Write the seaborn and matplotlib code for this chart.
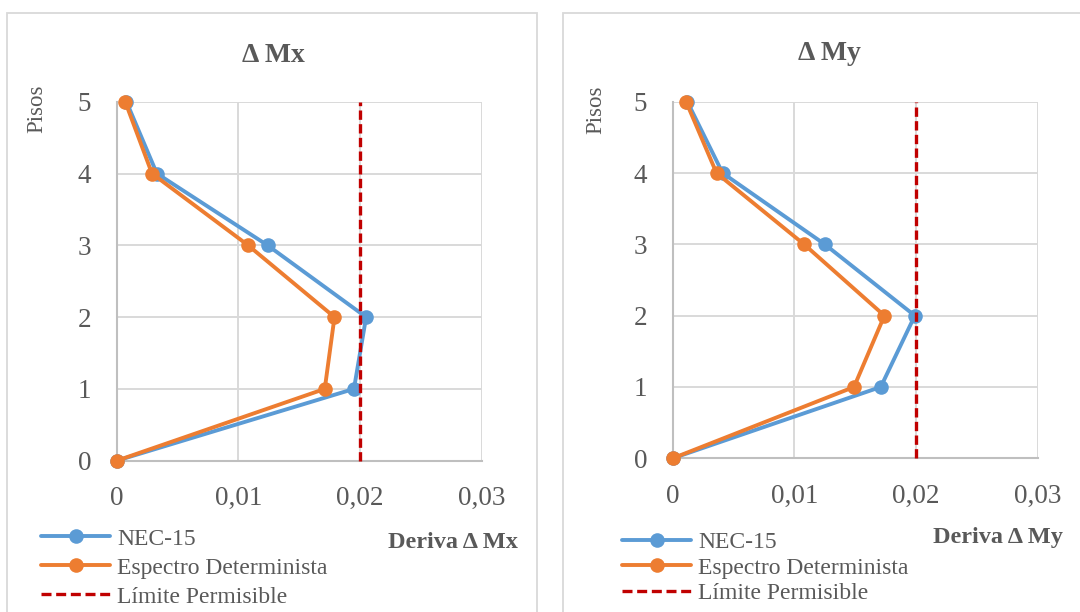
import matplotlib
matplotlib.use("Agg")
import matplotlib.pyplot as plt
import numpy as np
import pandas as pd
import seaborn as sns
from matplotlib.patches import Rectangle
from matplotlib.lines import Line2D

# Story levels and inter-story drifts
pisos = [0, 1, 2, 3, 4, 5]
nec_mx = [0.0, 0.0195, 0.0205, 0.0124, 0.0033, 0.0008]
esp_mx = [0.0, 0.0171, 0.0179, 0.0108, 0.0029, 0.0007]
nec_my = [0.0, 0.0171, 0.0199, 0.0125, 0.0041, 0.0012]
esp_my = [0.0, 0.0149, 0.0174, 0.0108, 0.0036, 0.0011]

series_names = ["NEC-15", "Espectro Determinista"]
limite_label = "Límite Permisible"
limite = 0.02

x_ticks = [0, 0.01, 0.02, 0.03]
x_tick_labels = ["0", "0,01", "0,02", "0,03"]
y_ticks = [0, 1, 2, 3, 4, 5]

titles = ["Δ Mx", "Δ My"]
x_labels = ["Deriva Δ Mx", "Deriva Δ My"]
y_label = "Pisos"

BLUE = "#5B9BD5"
ORANGE = "#ED7D31"
RED = "#C00000"
GRID = "#D9D9D9"
TEXT = "#595959"

sns.set_style("white")
plt.rcParams["font.family"] = ["Liberation Serif", "DejaVu Serif"]

W, H = 1080, 612
fig = plt.figure(figsize=(W / 100, H / 100), dpi=100)


def fx(x):
    return x / W


def fy(y):
    return 1 - y / H


def axes_rect(x0, y_top, x1, y_bot):
    return [fx(x0), fy(y_bot), fx(x1) - fx(x0), fy(y_top) - fy(y_bot)]


panels = [
    dict(nec=nec_mx, esp=esp_mx, rect=axes_rect(116.7, 101.7, 481.7, 460.7),
         frame=(7, 13, 537), title_xy=(273.7, 55), ylab_xy=(37, 109),
         xlab_xy=(518.3, 543), leg_xy=(40.7, 528), leg_sp=0.32),
    dict(nec=nec_my, esp=esp_my, rect=axes_rect(672.7, 101.7, 1037.7, 458.3),
         frame=(563, 13, 1100), title_xy=(829.6, 54), ylab_xy=(596, 110),
         xlab_xy=(1063.3, 537), leg_xy=(621.7, 531.5), leg_sp=0.17),
]

for i, p in enumerate(panels):
    # chart frame
    x0, y0, x1 = p["frame"]
    fig.patches.append(Rectangle((fx(x0), -0.1), fx(x1) - fx(x0), fy(y0) + 0.1,
                                 transform=fig.transFigure, fill=False,
                                 edgecolor=GRID, lw=1.3, zorder=0))

    ax = fig.add_axes(p["rect"])
    df = pd.DataFrame({
        "deriva": p["nec"] + p["esp"],
        "piso": pisos + pisos,
        "serie": [series_names[0]] * len(pisos) + [series_names[1]] * len(pisos),
    })
    sns.lineplot(data=df, x="deriva", y="piso", hue="serie",
                 hue_order=series_names, palette=[BLUE, ORANGE],
                 sort=False, estimator=None, marker="o", markersize=10.5,
                 markeredgewidth=0, linewidth=2.8, legend=False,
                 clip_on=False, zorder=3, ax=ax)
    ax.plot([limite, limite], [0, 5], color=RED, lw=2.4,
            ls=(0, (2.8, 1.3)), zorder=4, clip_on=False)

    ax.set_xlim(0, 0.03)
    ax.set_ylim(0, 5)
    ax.set_xticks(x_ticks)
    ax.set_xticklabels(x_tick_labels)
    ax.set_yticks(y_ticks)
    ax.set_xlabel("")
    ax.set_ylabel("")
    ax.tick_params(length=0, pad=18.5, labelsize=19.5, colors=TEXT)
    ax.grid(True, color=GRID, lw=1.4)
    ax.set_axisbelow(True)
    for s in ["top", "right"]:
        ax.spines[s].set_visible(False)
    for s in ["left", "bottom"]:
        ax.spines[s].set_color("#BFBFBF")
        ax.spines[s].set_linewidth(1.5)

    fig.text(fx(p["title_xy"][0]), fy(p["title_xy"][1]), titles[i],
             ha="center", va="center", fontsize=20, fontweight="bold",
             color=TEXT)
    fig.text(fx(p["ylab_xy"][0]), fy(p["ylab_xy"][1]), y_label, rotation=90,
             ha="center", va="center", fontsize=16.5, color=TEXT)
    fig.text(fx(p["xlab_xy"][0]), fy(p["xlab_xy"][1]), x_labels[i],
             ha="right", va="center", fontsize=17.5, fontweight="bold",
             color=TEXT)

    handles = [
        Line2D([], [], color=BLUE, lw=2.8, marker="o", markersize=10.5,
               markeredgewidth=0),
        Line2D([], [], color=ORANGE, lw=2.8, marker="o", markersize=10.5,
               markeredgewidth=0),
        Line2D([], [], color=RED, lw=2.4, ls=(0, (3, 1.4))),
    ]
    fig.legend(handles, series_names + [limite_label], loc="upper left",
               bbox_to_anchor=(fx(p["leg_xy"][0]), fy(p["leg_xy"][1])),
               frameon=False, borderpad=0, borderaxespad=0,
               handlelength=2.95, handletextpad=0.3,
               labelspacing=p["leg_sp"], fontsize=17, labelcolor=TEXT)

fig.savefig("out.png", dpi=100)
